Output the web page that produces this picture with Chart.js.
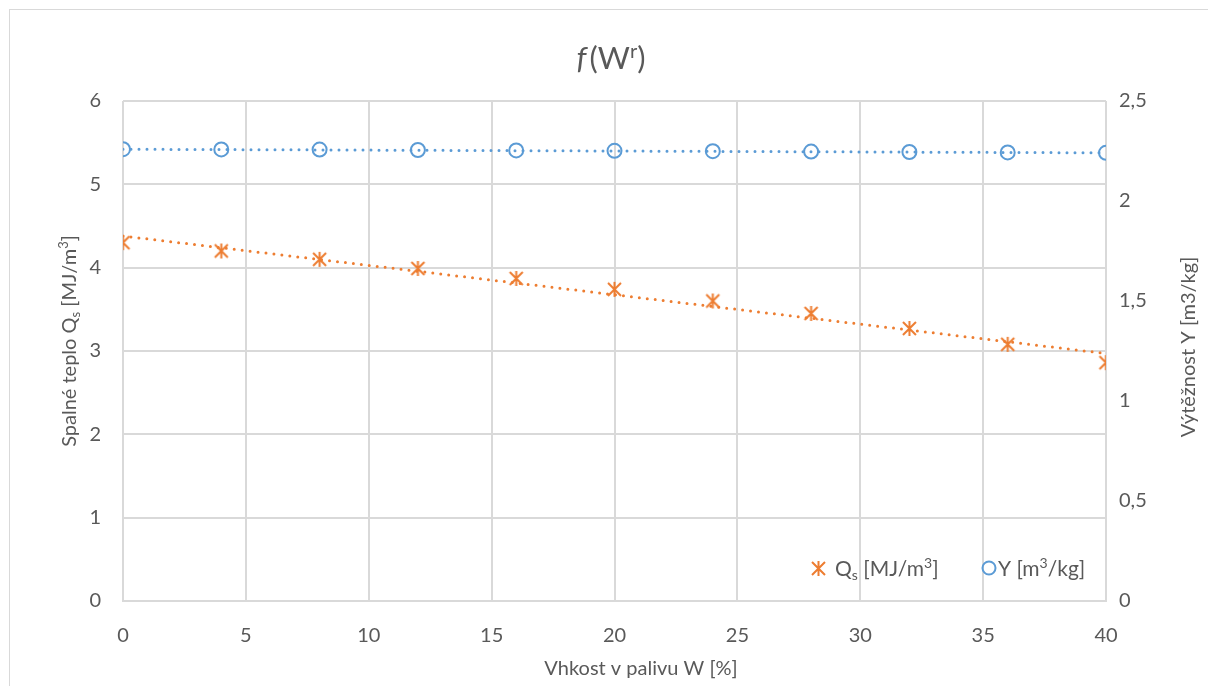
<!DOCTYPE html>
<html>
<head>
<meta charset="utf-8">
<script src="https://cdn.jsdelivr.net/npm/chart.js@4/dist/chart.umd.min.js"></script>
<style>
  html, body { margin: 0; padding: 0; background: #fff; }
  #wrap { width: 1208px; height: 686px; position: relative; }
</style>
</head>
<body>
<div id="wrap"><canvas id="chart" width="1208" height="686"></canvas></div>
<script>
// values
const moisture = [0, 4, 8, 12, 16, 20, 24, 28, 32, 36, 40];
const heatValues = [4.30, 4.20, 4.10, 3.99, 3.87, 3.74, 3.60, 3.45, 3.27, 3.08, 2.86];
const yieldValues = [2.259, 2.258, 2.257, 2.255, 2.253, 2.251, 2.249, 2.247, 2.245, 2.243, 2.241];
const trendX = [0, 40];
const heatTrend = [4.38, 2.97];
const yieldTrend = [2.259, 2.241];

const orange = '#ED7D31';
const blue = '#5B9BD5';
const textColor = '#595959';
const gridColor = '#d9d9d9';
const fontFam = 'Lato, "Open Sans", sans-serif';

function pts(xs, ys) {
  return xs.map((x, i) => ({ x: x, y: ys[i] }));
}

// excel-like asterisk marker
function makeStar(size) {
  const c = document.createElement('canvas');
  c.width = size; c.height = size;
  const g = c.getContext('2d');
  g.strokeStyle = orange;
  g.lineWidth = 2;
  const m = 2, s = size - 2;
  g.beginPath();
  g.moveTo(m, m); g.lineTo(s, s);
  g.moveTo(s, m); g.lineTo(m, s);
  g.moveTo(size / 2, 1); g.lineTo(size / 2, size - 1);
  g.stroke();
  return c;
}
const starImg = makeStar(17);

function drawRich(ctx, parts, cx, cy, align) {
  ctx.textAlign = 'left';
  let w = 0;
  parts.forEach(p => { ctx.font = p.f; w += ctx.measureText(p.t).width + (p.gap || 0); });
  let x = align === 'left' ? cx : cx - w / 2;
  parts.forEach(p => {
    ctx.font = p.f;
    ctx.fillText(p.t, x, cy + p.dy);
    x += ctx.measureText(p.t).width + (p.gap || 0);
  });
}

const decorPlugin = {
  id: 'decor',
  beforeDraw(chart) {
    const ctx = chart.ctx;
    ctx.save();
    ctx.strokeStyle = '#d9d9d9';
    ctx.lineWidth = 1;
    ctx.strokeRect(9.5, 9.5, 1400, 900);
    ctx.restore();
  },
  afterDraw(chart) {
    const ctx = chart.ctx;
    ctx.save();
    ctx.fillStyle = textColor;
    ctx.textBaseline = 'alphabetic';

    // title  f(W^r)
    drawRich(ctx, [
      { t: 'f', f: 'italic 31px ' + fontFam, dy: 0, gap: 3 },
      { t: '(W', f: '31px ' + fontFam, dy: 0 },
      { t: 'r', f: '20px ' + fontFam, dy: -11 },
      { t: ')', f: '31px ' + fontFam, dy: 0 }
    ], 611, 69);

    // x axis title
    ctx.font = '20px ' + fontFam;
    ctx.textAlign = 'center';
    ctx.fillText('Vhkost v palivu W [%]', 641, 675);

    // left axis title with subscript / superscript
    ctx.save();
    ctx.translate(76, 341);
    ctx.rotate(-Math.PI / 2);
    drawRich(ctx, [
      { t: 'Spalné teplo Q', f: '20px ' + fontFam, dy: 0 },
      { t: 's', f: '13px ' + fontFam, dy: 4 },
      { t: ' [MJ/m', f: '20px ' + fontFam, dy: 0 },
      { t: '3', f: '13px ' + fontFam, dy: -8 },
      { t: ']', f: '20px ' + fontFam, dy: 0 }
    ], 0, 0);
    ctx.restore();

    // right axis title
    ctx.save();
    ctx.translate(1195, 347);
    ctx.rotate(-Math.PI / 2);
    ctx.font = '20px ' + fontFam;
    ctx.textAlign = 'center';
    ctx.fillText('Výtěžnost Y [m3/kg]', 0, 0);
    ctx.restore();

    // legend
    ctx.drawImage(starImg, 818 - 8, 568 - 8);
    drawRich(ctx, [
      { t: 'Q', f: '21px ' + fontFam, dy: 0 },
      { t: 's', f: '14px ' + fontFam, dy: 4 },
      { t: ' [MJ/m', f: '21px ' + fontFam, dy: 0 },
      { t: '3', f: '14px ' + fontFam, dy: -8 },
      { t: ']', f: '21px ' + fontFam, dy: 0 }
    ], 835, 576, 'left');
    ctx.strokeStyle = blue;
    ctx.lineWidth = 2;
    ctx.beginPath();
    ctx.arc(989, 568, 6.5, 0, Math.PI * 2);
    ctx.stroke();
    drawRich(ctx, [
      { t: 'Y [m', f: '21px ' + fontFam, dy: 0 },
      { t: '3', f: '14px ' + fontFam, dy: -8 },
      { t: '/kg]', f: '21px ' + fontFam, dy: 0 }
    ], 998, 576, 'left');
    ctx.restore();
  }
};

const ctx = document.getElementById('chart').getContext('2d');

new Chart(ctx, {
  type: 'scatter',
  data: {
    datasets: [
      {
        label: 'Qs trend',
        data: pts(trendX, heatTrend),
        showLine: true,
        borderColor: orange,
        borderWidth: 3,
        borderDash: [0, 8],
        borderCapStyle: 'round',
        pointRadius: 0,
        yAxisID: 'y'
      },
      {
        label: 'Y trend',
        data: pts(trendX, yieldTrend),
        showLine: true,
        borderColor: blue,
        borderWidth: 3,
        borderDash: [0, 8],
        borderCapStyle: 'round',
        pointRadius: 0,
        yAxisID: 'y1'
      },
      {
        label: 'Qs [MJ/m3]',
        data: pts(moisture, heatValues),
        pointStyle: starImg,
        pointRadius: 8,
        yAxisID: 'y'
      },
      {
        label: 'Y [m3/kg]',
        data: pts(moisture, yieldValues),
        pointStyle: 'circle',
        pointRadius: 7,
        borderColor: blue,
        borderWidth: 2,
        backgroundColor: 'rgba(0,0,0,0)',
        yAxisID: 'y1'
      }
    ]
  },
  options: {
    responsive: false,
    animation: false,
    layout: { padding: { top: 101, left: 0, right: 0, bottom: 0 } },
    plugins: {
      legend: { display: false },
      tooltip: { enabled: false }
    },
    scales: {
      x: {
        type: 'linear',
        min: 0,
        max: 40,
        ticks: { stepSize: 5, color: textColor, font: { size: 20, family: fontFam }, padding: 23 },
        grid: { color: gridColor, lineWidth: 2, drawTicks: false },
        border: { color: gridColor, width: 2 },
        afterFit(scale) { scale.height = 85; }
      },
      y: {
        position: 'left',
        min: 0,
        max: 6,
        ticks: { stepSize: 1, color: textColor, font: { size: 20, family: fontFam }, padding: 22 },
        grid: { color: gridColor, lineWidth: 2, drawTicks: false },
        border: { display: false },
        afterFit(scale) { scale.width = 123; }
      },
      y1: {
        position: 'right',
        min: 0,
        max: 2.5,
        ticks: {
          stepSize: 0.5,
          color: textColor,
          font: { size: 20, family: fontFam },
          padding: 13,
          callback: v => String(v).replace('.', ',')
        },
        grid: { display: false, drawTicks: false },
        border: { display: false },
        afterFit(scale) { scale.width = 102; }
      }
    }
  },
  plugins: [decorPlugin]
});
</script>
</body>
</html>
